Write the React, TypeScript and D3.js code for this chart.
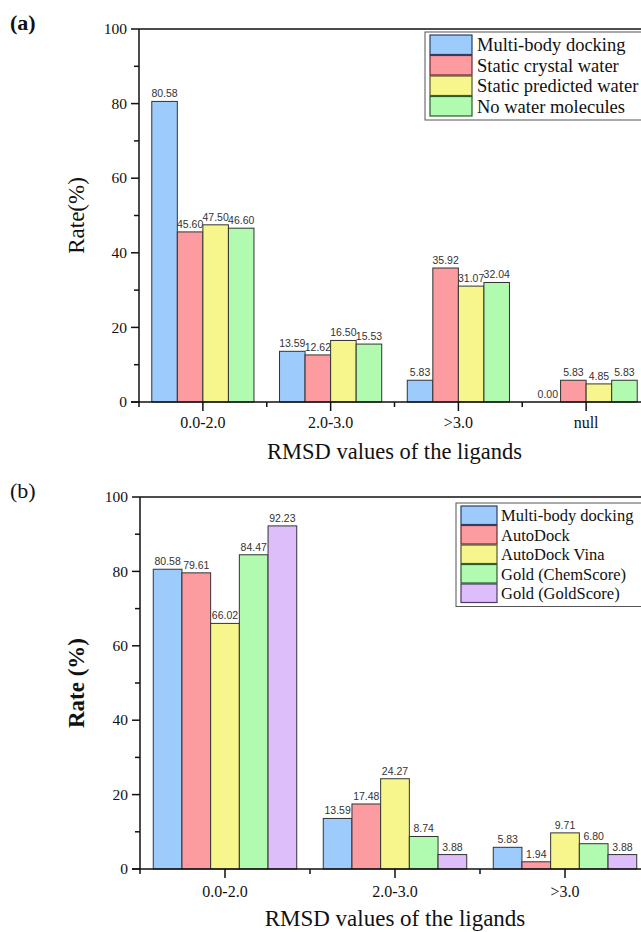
import React from "react";
import * as d3 from "d3";

const catsA = ["0.0-2.0", "2.0-3.0", ">3.0", "null"];
const seriesNamesA = ["Multi-body docking", "Static crystal water", "Static predicted water", "No water molecules"];
const multiBodyA = [80.58, 13.59, 5.83, 0.0];
const crystalA = [45.6, 12.62, 35.92, 5.83];
const predictedA = [47.5, 16.5, 31.07, 4.85];
const noWaterA = [46.6, 15.53, 32.04, 5.83];

const catsB = ["0.0-2.0", "2.0-3.0", ">3.0"];
const seriesNamesB = ["Multi-body docking", "AutoDock", "AutoDock Vina", "Gold (ChemScore)", "Gold (GoldScore)"];
const multiBodyB = [80.58, 13.59, 5.83];
const autoDockB = [79.61, 17.48, 1.94];
const vinaB = [66.02, 24.27, 9.71];
const chemScoreB = [84.47, 8.74, 6.8];
const goldScoreB = [92.23, 3.88, 3.88];

const yTicks = [0, 20, 40, 60, 80, 100];
const yMinor = [10, 30, 50, 70, 90];

const COLORS = ["#9DCBFB", "#FC9BA0", "#F7F68C", "#B1FBB0", "#DDBEFB"];
const STROKES = ["#2b3f66", "#6a2a2e", "#55552a", "#2c5a2c", "#4f3a66"];
const SERIF = "'Liberation Serif', 'Times New Roman', serif";
const SANS = "'Liberation Sans', Arial, sans-serif";

type PanelProps = {
  cats: string[];
  names: string[];
  series: number[][];
  x0: number;
  x1: number;
  yTop: number;
  yBottom: number;
  padInner: number;
  padOuter: number;
  panelLabel: string;
  panelLabelBold: boolean;
  panelLabelY: number;
  yTitle: string;
  yTitleBold: boolean;
  xTitleSize: number;
  catBaseline: number;
  titleBaseline: number;
  legend: { x: number; y: number; swW: number; rowH: number; font: number; textX: number };
};

function Panel(p: PanelProps) {
  const x = d3.scaleBand<string>().domain(p.cats).range([p.x0, p.x1]).paddingInner(p.padInner).paddingOuter(p.padOuter);
  const inner = d3
    .scaleBand<number>()
    .domain(d3.range(p.series.length))
    .range([0, x.bandwidth()]);
  const y = d3.scaleLinear().domain([0, 100]).range([p.yBottom, p.yTop]);
  const step = x.step();
  const boundaries = d3.range(p.cats.length).map((i) => p.x0 + i * step);
  const nRows = p.names.length;
  const lg = p.legend;
  return (
    <g>
      <text x={10} y={p.panelLabelY} fontFamily={SERIF} fontSize={22} fontWeight={p.panelLabelBold ? "bold" : "normal"} fill="#111">
        {p.panelLabel}
      </text>
      {/* bars */}
      {p.series.map((vals, si) =>
        vals.map((v, ci) => {
          const bx = (x(p.cats[ci]) as number) + (inner(si) as number);
          const by = y(v);
          return (
            <g key={`b${si}-${ci}`}>
              {v > 0 && (
                <rect x={bx} y={by} width={inner.bandwidth()} height={y(0) - by} fill={COLORS[si]} stroke="#333" strokeWidth={1} />
              )}
              <text x={bx + inner.bandwidth() / 2} y={by - 4} textAnchor="middle" fontFamily={SANS} fontSize={10.5} fill="#333">
                {v.toFixed(2)}
              </text>
            </g>
          );
        })
      )}
      {/* frame: left and top and bottom */}
      <line x1={p.x0} x2={p.x0} y1={p.yTop} y2={p.yBottom} stroke="#111" strokeWidth={1.5} />
      <line x1={p.x0} x2={700} y1={p.yTop} y2={p.yTop} stroke="#111" strokeWidth={1.5} />
      <line x1={p.x0 - 8} x2={700} y1={p.yBottom} y2={p.yBottom} stroke="#111" strokeWidth={1.5} />
      {/* y ticks */}
      {yTicks.map((t) => (
        <g key={`yt${t}`}>
          <line x1={p.x0 - 8} x2={p.x0} y1={y(t)} y2={y(t)} stroke="#111" strokeWidth={1.5} />
          <text x={p.x0 - 12} y={y(t)} dy="0.34em" textAnchor="end" fontFamily={SERIF} fontSize={15.5} fill="#111">
            {t}
          </text>
        </g>
      ))}
      {yMinor.map((t) => (
        <line key={`ym${t}`} x1={p.x0 - 5} x2={p.x0} y1={y(t)} y2={y(t)} stroke="#111" strokeWidth={1.5} />
      ))}
      {/* x ticks */}
      {p.cats.map((c) => {
        const cx = (x(c) as number) + x.bandwidth() / 2;
        return (
          <g key={`xt${c}`}>
            <line x1={cx} x2={cx} y1={p.yBottom} y2={p.yBottom + 9} stroke="#111" strokeWidth={1.5} />
            <text x={cx} y={p.catBaseline} textAnchor="middle" fontFamily={SERIF} fontSize={16} fill="#111">
              {c}
            </text>
          </g>
        );
      })}
      {boundaries.map((bx, i) => (
        <line key={`xb${i}`} x1={bx} x2={bx} y1={p.yBottom} y2={p.yBottom + 5} stroke="#111" strokeWidth={1.5} />
      ))}
      <text x={(p.x0 + p.x1) / 2} y={p.titleBaseline} textAnchor="middle" fontFamily={SERIF} fontSize={p.xTitleSize} fill="#111">
        RMSD values of the ligands
      </text>
      <text
        transform={`translate(84, ${(p.yTop + p.yBottom) / 2}) rotate(-90)`}
        textAnchor="middle"
        fontFamily={SERIF}
        fontSize={23}
        fontWeight={p.yTitleBold ? "bold" : "normal"}
        fill="#111"
      >
        {p.yTitle}
      </text>
      {/* legend */}
      <rect x={lg.x} y={lg.y} width={260} height={nRows * lg.rowH + 6} fill="#fff" stroke="#555" strokeWidth={1} />
      {p.names.map((n, i) => (
        <g key={`lg${i}`}>
          <rect x={lg.x + 5} y={lg.y + 3 + i * lg.rowH} width={lg.swW} height={lg.rowH - 1} fill={COLORS[i]} stroke={STROKES[i]} strokeWidth={1.2} />
          <text x={lg.textX} y={lg.y + 3 + i * lg.rowH + lg.rowH / 2} dy="0.33em" fontFamily={SERIF} fontSize={lg.font} fill="#111">
            {n}
          </text>
        </g>
      ))}
    </g>
  );
}

export default function App() {
  return (
    <svg
      width={641}
      height={932}
      viewBox="0 0 641 932"
      style={{ position: "absolute", left: 0, top: 0, background: "#fff", overflow: "hidden" }}
    >
      <rect x={0} y={0} width={641} height={932} fill="#fff" />
      <Panel
        cats={catsA}
        names={seriesNamesA}
        series={[multiBodyA, crystalA, predictedA, noWaterA]}
        x0={139}
        x1={650}
        yTop={29}
        yBottom={402}
        padInner={0.2}
        padOuter={0.1}
        panelLabel="(a)"
        panelLabelBold={true}
        panelLabelY={30}
        yTitle="Rate(%)"
        yTitleBold={false}
        xTitleSize={22.5}
        catBaseline={428}
        titleBaseline={459}
        legend={{ x: 425, y: 32, swW: 42, rowH: 20.5, font: 18.5, textX: 477 }}
      />
      <Panel
        cats={catsB}
        names={seriesNamesB}
        series={[multiBodyB, autoDockB, vinaB, chemScoreB, goldScoreB]}
        x0={140}
        x1={650}
        yTop={497}
        yBottom={869}
        padInner={0.156}
        padOuter={0.078}
        panelLabel="(b)"
        panelLabelBold={false}
        panelLabelY={498}
        yTitle="Rate (%)"
        yTitleBold={true}
        xTitleSize={23}
        catBaseline={897}
        titleBaseline={926}
        legend={{ x: 456, y: 503, swW: 36, rowH: 19.5, font: 16.5, textX: 501 }}
      />
    </svg>
  );
}
